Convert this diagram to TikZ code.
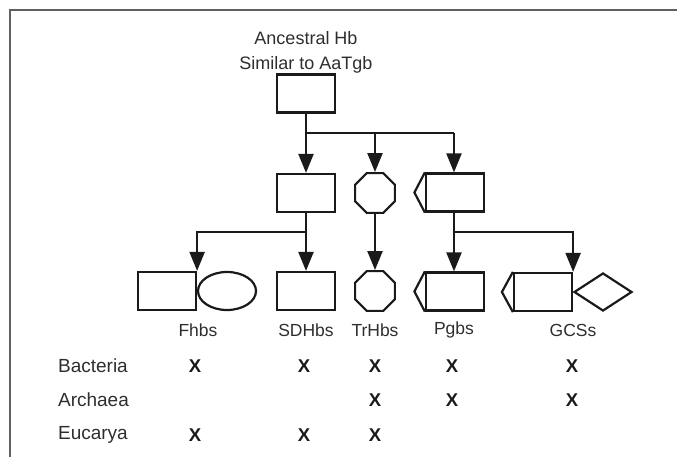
\documentclass[tikz,border=0pt]{standalone}
\usepackage{fontspec}
\setmainfont{Liberation Sans}
\usetikzlibrary{arrows.meta,shapes.geometric}
\definecolor{ink}{HTML}{1A1A1A}
\definecolor{txt}{HTML}{2E2E2E}
\definecolor{framec}{HTML}{606060}
\begin{document}
\begin{tikzpicture}[x=1pt,y=-1pt,
  line width=2.2pt,
  box/.style={draw=ink, rectangle, minimum width=58pt, minimum height=38pt, inner sep=0pt},
  oct/.style={draw=ink, regular polygon, regular polygon sides=8, minimum size=43pt, inner sep=0pt},
  ell/.style={draw=ink, ellipse, minimum width=58pt, minimum height=38pt, inner sep=0pt},
  dia/.style={draw=ink, diamond, minimum width=58pt, minimum height=38pt, inner sep=0pt},
  conn/.style={draw=ink, line width=2.2pt},
  arr/.style={conn, -{Triangle[width=15pt,length=19pt]}},
  flag/.style={draw=ink, line width=2.2pt, line join=miter},
  lab/.style={font=\fontsize{17.5}{20}\selectfont, text=txt, inner sep=0pt},
  taxon/.style={font=\fontsize{19}{22}\selectfont, text=txt, inner sep=0pt, anchor=west},
  xmark/.style={font=\bfseries\fontsize{18.5}{20}\selectfont, text=ink, inner sep=0pt},
]
\useasboundingbox (0,0) rectangle (677,457);
% frame
\draw[framec, line width=2pt] (10,457) -- (10,10) -- (677,10);

% title and root
\node[lab, align=center, font=\fontsize{18}{25}\selectfont] (title) at (306,52) {Ancestral Hb\\Similar to AaTgb};
\node[box] (anc) at (306,93.5) {};

% second row
\node[box] (sdh1) at (306,193) {};
\node[oct] (oct1) at (375,193) {};
\node[box] (pg1) at (455,192.5) {};
\draw[flag] (pg1.north west) -- ([xshift=-10.5pt]pg1.west) -- (pg1.south west);

% third row
\node[box] (fh) at (167,291) {};
\node[ell] (fhe) at (227,291) {};
\node[box] (sdh2) at (306,291) {};
\node[oct] (oct2) at (375,291) {};
\node[box] (pg2) at (455,291.5) {};
\draw[flag] (pg2.north west) -- ([xshift=-10.5pt]pg2.west) -- (pg2.south west);
\node[box] (gc) at (543,292) {};
\draw[flag] (gc.north west) -- ([xshift=-11pt]gc.west) -- (gc.south west);
\node[dia] (gcd) at (603,292) {};

% junctions
\coordinate (j1) at (306,133);
\coordinate (j2) at (454,133);
\coordinate (j3) at (306,232);
\coordinate (j4) at (454,232);

% connectors
\draw[conn] (anc.south) -- (j1) -- (j2);
\draw[arr] (j1) -- (sdh1.north);
\draw[arr] (oct1 |- j1) -- (oct1.north);
\draw[arr] (j2) -- (pg1.north -| j2);

\draw[conn] (sdh1.south) -- (j3);
\draw[arr] (j3) -| (fh.north east);
\draw[arr] (j3) -- (sdh2.north);
\draw[arr] (oct1.south) -- (oct2.north);
\draw[conn] (pg1.south -| j4) -- (j4);
\draw[arr] (j4) -- (pg2.north -| j4);
\draw[arr] (j4) -| (gc.north east);

% labels
\node[lab] (lfh) at (198,330) {Fhbs};
\node[lab] (lsdh) at (306,330) {SDHbs};
\node[lab] (ltr) at (375,330) {TrHbs};
\node[lab] (lpg) at (454,330) {Pgbs};
\node[lab] (lgc) at (573,330) {GCSs};

% table
\node[taxon] (bac) at (57,366) {Bacteria};
\node[taxon] (arc) at (57,400) {Archaea};
\node[taxon] (euc) at (57,435) {Eucarya};

\node[xmark] (b1) at (195,366) {X};
\node[xmark] (b2) at (304,366) {X};
\node[xmark] (b3) at (375,366) {X};
\node[xmark] (b4) at (452,366) {X};
\node[xmark] (b5) at (572,366) {X};

\node[xmark] (a3) at (375,400) {X};
\node[xmark] (a4) at (452,400) {X};
\node[xmark] (a5) at (572,400) {X};

\node[xmark] (e1) at (195,435) {X};
\node[xmark] (e2) at (304,435) {X};
\node[xmark] (e3) at (375,435) {X};
\end{tikzpicture}
\end{document}
